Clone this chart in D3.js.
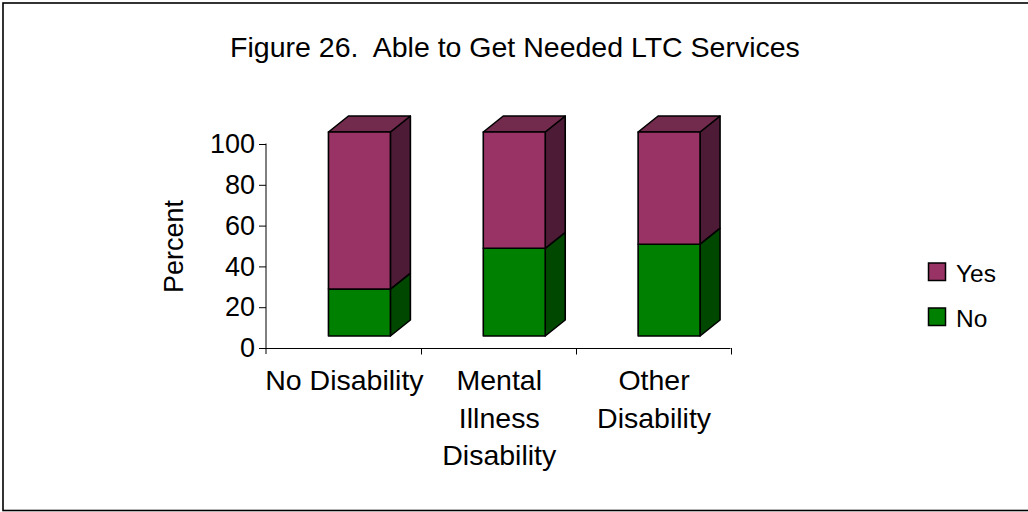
<!DOCTYPE html>
<html>
<head>
<meta charset="utf-8">
<script src="https://cdn.jsdelivr.net/npm/d3@7"></script>
<style>
  html, body { margin: 0; padding: 0; background: #fff; }
  svg { display: block; font-family: "Liberation Sans", Arial, sans-serif; }
  text { white-space: pre; }
</style>
</head>
<body>
<svg id="chart" width="1028" height="512"></svg>
<script>
// Chart data
const categories = ["No Disability", "Mental Illness Disability", "Other Disability"];
const categoryLines = [["No Disability"], ["Mental", "Illness", "Disability"], ["Other", "Disability"]];
const seriesNames = ["No", "Yes"];
const noValues = [23, 43, 45];
const yesValues = [77, 57, 55];
const yTicks = [0, 20, 40, 60, 80, 100];
const title = "Figure 26.  Able to Get Needed LTC Services";
const yTitle = "Percent";

const colors = {
  Yes: { front: "#993366", top: "#722a4d", side: "#4d1b35" },
  No:  { front: "#008000", top: "#006000", side: "#004800" }
};

const svg = d3.select("#chart");

// Outer frame
svg.append("rect")
  .attr("x", 3).attr("y", 3)
  .attr("width", 1040).attr("height", 507.5)
  .attr("fill", "none").attr("stroke", "#000").attr("stroke-width", 1.6);

// Title
svg.append("text")
  .attr("x", 515).attr("y", 56.5)
  .attr("text-anchor", "middle")
  .attr("font-size", 28.5)
  .attr("xml:space", "preserve")
  .text(title);

// Scales
const x = d3.scaleBand().domain(categories).range([266, 730.5]).paddingInner(0).paddingOuter(0);
const y = d3.scaleLinear().domain([0, 100]).range([348, 144]);
const barW = x.bandwidth() / 2.5;      // gap width 150%
const shiftX = 16, shiftY = -12;       // front face offset from the axis plane
const depthX = 20, depthY = -16;       // 3D depth of each column

// Y axis
const yAxis = d3.axisLeft(y).tickValues(yTicks).tickSize(7).tickPadding(4);
const gy = svg.append("g").attr("transform", "translate(266,0)").call(yAxis);
gy.select(".domain").attr("d", "M0,143.5V354").attr("stroke", "#000");
gy.selectAll(".tick line").attr("stroke", "#000");
gy.selectAll(".tick text")
  .attr("font-size", 27).attr("fill", "#000")
  .attr("font-family", "Liberation Sans, Arial, sans-serif");

// X axis (line plus category dividers)
const gx = svg.append("g");
gx.append("line")
  .attr("x1", 266).attr("x2", 730.5).attr("y1", 348.5).attr("y2", 348.5)
  .attr("stroke", "#000").attr("stroke-width", 1);
const dividers = categories.map(c => x(c) + x.bandwidth());
gx.selectAll("line.div").data(dividers).enter().append("line")
  .attr("class", "div")
  .attr("x1", d => Math.round(d) + 0.5).attr("x2", d => Math.round(d) + 0.5)
  .attr("y1", 348).attr("y2", 354.5)
  .attr("stroke", "#000");

// Category labels
categories.forEach((c, i) => {
  const cx = x(c) + x.bandwidth() / 2 + 1;
  const t = svg.append("text")
    .attr("text-anchor", "middle")
    .attr("font-size", 28.5);
  categoryLines[i].forEach((line, j) => {
    t.append("tspan").attr("x", cx).attr("y", 390 + j * 37.5).text(line);
  });
});

// Y axis title
svg.append("text")
  .attr("transform", "translate(182.5,246.5) rotate(-90)")
  .attr("text-anchor", "middle")
  .attr("font-size", 27)
  .text(yTitle);

// Stacked 3D columns
const stackData = categories.map((c, i) => ({ cat: c, No: noValues[i], Yes: yesValues[i] }));
const stacked = d3.stack().keys(seriesNames)(stackData);

const barsG = svg.append("g");
stacked.forEach((layer, li) => {
  const key = layer.key;
  layer.forEach((seg, i) => {
    const cat = categories[i];
    const x0 = x(cat) + (x.bandwidth() - barW) / 2 + shiftX;
    const x1 = x0 + barW;
    const yb = y(seg[0]) + shiftY;
    const yt = y(seg[1]) + shiftY;
    const g = barsG.append("g")
      .attr("stroke", "#000").attr("stroke-width", 1.6).attr("stroke-linejoin", "round");
    // side face
    g.append("path")
      .attr("d", `M${x1},${yb}L${x1 + depthX},${yb + depthY}L${x1 + depthX},${yt + depthY}L${x1},${yt}Z`)
      .attr("fill", colors[key].side);
    // top face (only visible on the top segment)
    if (li === stacked.length - 1) {
      g.append("path")
        .attr("d", `M${x0},${yt}L${x0 + depthX},${yt + depthY}L${x1 + depthX},${yt + depthY}L${x1},${yt}Z`)
        .attr("fill", colors[key].top);
    }
    // front face
    g.append("rect")
      .attr("x", x0).attr("y", yt)
      .attr("width", barW).attr("height", yb - yt)
      .attr("fill", colors[key].front);
  });
});

// Legend
const legendItems = ["Yes", "No"];
const lg = svg.append("g");
legendItems.forEach((k, i) => {
  const ly = 263 + i * 45;
  lg.append("rect")
    .attr("x", 928.5).attr("y", ly)
    .attr("width", 17).attr("height", 17.5)
    .attr("fill", colors[k].front)
    .attr("stroke", "#000").attr("stroke-width", 1.5);
  lg.append("text")
    .attr("x", 956).attr("y", ly + 18.5)
    .attr("font-size", 24.5)
    .text(k);
});
</script>
</body>
</html>
